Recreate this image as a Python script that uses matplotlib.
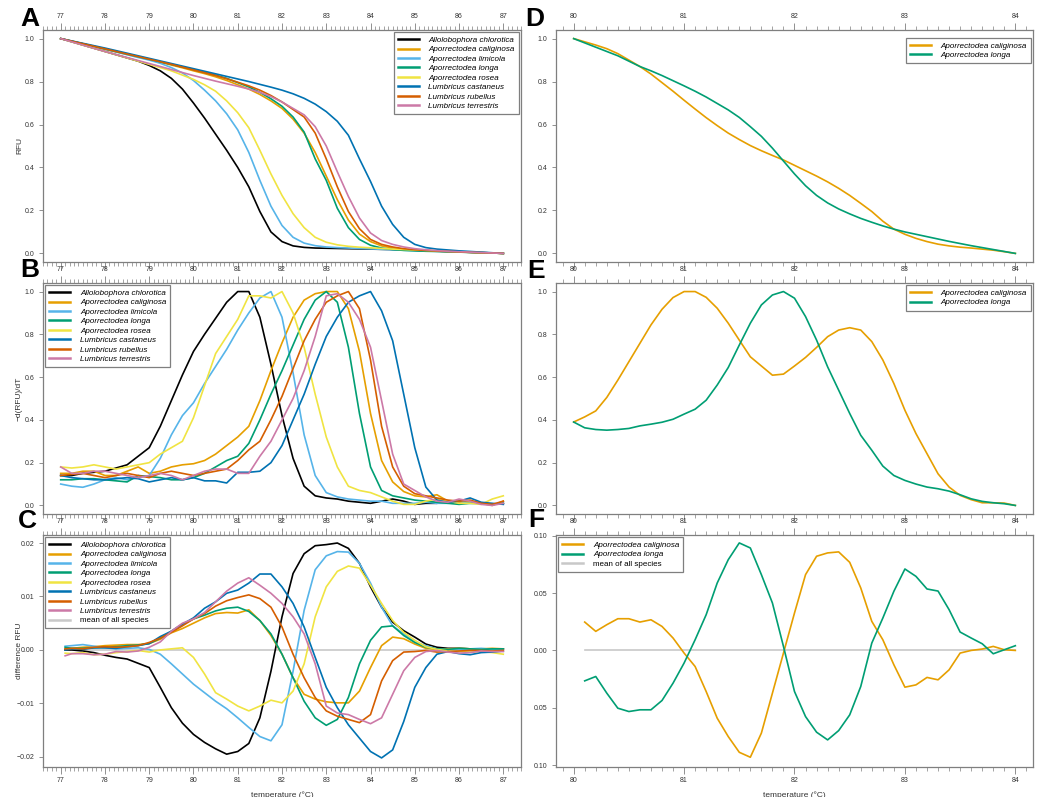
import numpy as np
import matplotlib
matplotlib.use('Agg')
import matplotlib.pyplot as plt
from matplotlib.ticker import MultipleLocator

plt.rcParams['font.family'] = ['Liberation Sans', 'DejaVu Sans']

# Dados: temperaturas
temp_ab = np.arange(77, 87.01, 0.25)
temp_c = np.concatenate([[77.1], np.arange(77.25, 87.01, 0.25)])
temp_de = np.round(np.arange(80, 84.01, 0.1), 1)
temp_f = np.round(np.arange(80.1, 84.01, 0.1), 1)

species = ['Allolobophora chlorotica', 'Aporrectodea caliginosa', 'Aporrectodea limicola',
           'Aporrectodea longa', 'Aporrectodea rosea', 'Lumbricus castaneus',
           'Lumbricus rubellus', 'Lumbricus terrestris']
colors = ['#000000', '#E69F00', '#56B4E9', '#009E73', '#F0E442', '#0072B2', '#D55E00', '#CC79A7']

# A: curvas de fusao (RFU)
a_chlorotica = [1.0, 0.985, 0.97, 0.955, 0.94, 0.925, 0.91, 0.895, 0.875, 0.85, 0.815, 0.765, 0.70, 0.63, 0.555, 0.48, 0.40, 0.31, 0.195, 0.10, 0.055, 0.035, 0.028, 0.025, 0.024, 0.023, 0.022, 0.021, 0.02, 0.019, 0.018, 0.016, 0.015, 0.013, 0.011, 0.009, 0.007, 0.005, 0.004, 0.002, 0.0]
a_caliginosa = [1.0, 0.988, 0.976, 0.963, 0.95, 0.938, 0.926, 0.914, 0.902, 0.89, 0.877, 0.864, 0.85, 0.837, 0.822, 0.805, 0.785, 0.765, 0.74, 0.71, 0.675, 0.625, 0.56, 0.47, 0.36, 0.25, 0.155, 0.09, 0.055, 0.035, 0.025, 0.019, 0.015, 0.012, 0.01, 0.008, 0.006, 0.005, 0.003, 0.002, 0.0]
a_limicola = [1.0, 0.987, 0.975, 0.962, 0.95, 0.938, 0.925, 0.912, 0.90, 0.885, 0.865, 0.84, 0.805, 0.76, 0.71, 0.65, 0.575, 0.47, 0.34, 0.22, 0.13, 0.075, 0.048, 0.036, 0.03, 0.027, 0.025, 0.023, 0.021, 0.019, 0.017, 0.015, 0.013, 0.011, 0.01, 0.008, 0.006, 0.005, 0.003, 0.002, 0.0]
a_longa = [1.0, 0.988, 0.976, 0.964, 0.952, 0.94, 0.928, 0.916, 0.904, 0.892, 0.88, 0.868, 0.856, 0.843, 0.83, 0.815, 0.795, 0.775, 0.75, 0.72, 0.685, 0.635, 0.565, 0.44, 0.34, 0.21, 0.12, 0.065, 0.038, 0.025, 0.018, 0.014, 0.012, 0.01, 0.009, 0.008, 0.006, 0.005, 0.003, 0.002, 0.0]
a_rosea = [1.0, 0.985, 0.97, 0.955, 0.94, 0.925, 0.91, 0.895, 0.88, 0.865, 0.85, 0.83, 0.81, 0.785, 0.755, 0.71, 0.655, 0.585, 0.48, 0.37, 0.27, 0.185, 0.12, 0.075, 0.052, 0.04, 0.033, 0.029, 0.026, 0.023, 0.02, 0.018, 0.016, 0.014, 0.012, 0.01, 0.008, 0.006, 0.004, 0.002, 0.0]
a_castaneus = [1.0, 0.989, 0.978, 0.967, 0.956, 0.944, 0.932, 0.92, 0.908, 0.896, 0.884, 0.872, 0.86, 0.848, 0.836, 0.824, 0.812, 0.80, 0.787, 0.774, 0.76, 0.743, 0.722, 0.695, 0.66, 0.615, 0.55, 0.44, 0.335, 0.22, 0.135, 0.075, 0.042, 0.027, 0.02, 0.016, 0.012, 0.009, 0.006, 0.003, 0.0]
a_rubellus = [1.0, 0.988, 0.976, 0.964, 0.952, 0.94, 0.928, 0.916, 0.904, 0.892, 0.88, 0.867, 0.854, 0.841, 0.828, 0.813, 0.797, 0.78, 0.76, 0.735, 0.705, 0.67, 0.635, 0.56, 0.44, 0.31, 0.195, 0.115, 0.065, 0.042, 0.03, 0.022, 0.017, 0.014, 0.011, 0.009, 0.007, 0.005, 0.003, 0.002, 0.0]
a_terrestris = [1.0, 0.985, 0.97, 0.955, 0.94, 0.926, 0.912, 0.898, 0.884, 0.87, 0.856, 0.842, 0.828, 0.815, 0.802, 0.79, 0.778, 0.765, 0.75, 0.73, 0.705, 0.675, 0.645, 0.59, 0.50, 0.38, 0.265, 0.165, 0.095, 0.06, 0.042, 0.03, 0.022, 0.017, 0.013, 0.01, 0.008, 0.006, 0.004, 0.002, 0.0]

# B: -d(RFU)/dT normalizada
b_chlorotica = [0.14, 0.14, 0.15, 0.155, 0.16, 0.175, 0.19, 0.23, 0.27, 0.37, 0.49, 0.61, 0.72, 0.80, 0.875, 0.95, 1.0, 1.0, 0.88, 0.66, 0.42, 0.22, 0.09, 0.045, 0.035, 0.03, 0.02, 0.015, 0.01, 0.02, 0.03, 0.02, 0.005, 0.01, 0.01, 0.02, 0.01, 0.02, 0.01, 0.005, 0.01]
b_caliginosa = [0.15, 0.15, 0.16, 0.16, 0.14, 0.14, 0.16, 0.18, 0.15, 0.16, 0.18, 0.19, 0.195, 0.21, 0.24, 0.28, 0.32, 0.37, 0.49, 0.63, 0.76, 0.88, 0.96, 0.99, 1.0, 1.0, 0.92, 0.72, 0.43, 0.21, 0.11, 0.065, 0.045, 0.04, 0.05, 0.02, 0.01, 0.02, 0.01, 0.0, 0.02]
b_limicola = [0.10, 0.09, 0.085, 0.10, 0.12, 0.13, 0.12, 0.13, 0.14, 0.22, 0.33, 0.42, 0.48, 0.57, 0.65, 0.73, 0.82, 0.90, 0.97, 1.0, 0.88, 0.62, 0.33, 0.14, 0.06, 0.04, 0.03, 0.025, 0.02, 0.02, 0.01, 0.01, 0.01, 0.015, 0.01, 0.01, 0.02, 0.01, 0.01, 0.005, 0.01]
b_longa = [0.12, 0.12, 0.125, 0.125, 0.12, 0.115, 0.11, 0.14, 0.135, 0.13, 0.12, 0.12, 0.13, 0.15, 0.18, 0.21, 0.23, 0.29, 0.40, 0.52, 0.63, 0.75, 0.87, 0.96, 1.0, 0.95, 0.74, 0.43, 0.18, 0.07, 0.045, 0.035, 0.025, 0.02, 0.015, 0.01, 0.005, 0.01, 0.01, 0.005, 0.01]
b_rosea = [0.18, 0.175, 0.18, 0.19, 0.18, 0.17, 0.18, 0.19, 0.20, 0.24, 0.27, 0.30, 0.41, 0.56, 0.71, 0.79, 0.87, 0.98, 0.98, 0.97, 1.0, 0.90, 0.74, 0.52, 0.32, 0.18, 0.09, 0.07, 0.06, 0.04, 0.02, 0.005, 0.005, 0.02, 0.03, 0.02, 0.01, 0.01, 0.005, 0.03, 0.045]
b_castaneus = [0.14, 0.13, 0.125, 0.12, 0.12, 0.125, 0.13, 0.125, 0.11, 0.12, 0.13, 0.12, 0.13, 0.115, 0.115, 0.105, 0.155, 0.155, 0.16, 0.20, 0.28, 0.40, 0.52, 0.66, 0.79, 0.88, 0.95, 0.98, 1.0, 0.91, 0.77, 0.52, 0.27, 0.086, 0.025, 0.015, 0.02, 0.035, 0.015, 0.01, 0.005]
b_rubellus = [0.14, 0.145, 0.15, 0.14, 0.13, 0.14, 0.15, 0.14, 0.13, 0.15, 0.16, 0.15, 0.14, 0.15, 0.16, 0.17, 0.21, 0.26, 0.30, 0.40, 0.51, 0.64, 0.77, 0.87, 0.95, 0.98, 1.0, 0.92, 0.68, 0.37, 0.18, 0.09, 0.055, 0.045, 0.035, 0.025, 0.02, 0.025, 0.01, 0.005, 0.02]
b_terrestris = [0.18, 0.15, 0.15, 0.16, 0.16, 0.15, 0.14, 0.13, 0.14, 0.15, 0.14, 0.12, 0.14, 0.16, 0.17, 0.17, 0.15, 0.15, 0.23, 0.30, 0.40, 0.50, 0.63, 0.79, 0.98, 0.99, 0.95, 0.87, 0.74, 0.49, 0.24, 0.10, 0.07, 0.04, 0.02, 0.015, 0.03, 0.02, 0.005, 0.0, 0.01]

# C: diferenca para a media
c_chlorotica = [0.0, 0.0, -0.0002, -0.0005, -0.001, -0.0014, -0.0017, -0.0025, -0.0033, -0.007, -0.0108, -0.0137, -0.0158, -0.0173, -0.0185, -0.0195, -0.019, -0.0175, -0.0127, -0.004, 0.0062, 0.0143, 0.018, 0.0195, 0.0197, 0.02, 0.019, 0.0162, 0.0118, 0.008, 0.0052, 0.0036, 0.0024, 0.0011, 0.0005, 0.0003, 0.0003, 0.0002, 0.0001, 0.0002, 0.0002]
c_caliginosa = [0.0002, 0.0003, 0.0005, 0.0006, 0.0008, 0.0009, 0.001, 0.001, 0.0012, 0.002, 0.0032, 0.004, 0.005, 0.006, 0.0068, 0.007, 0.0069, 0.0075, 0.0055, 0.0027, -0.0008, -0.0052, -0.0083, -0.0092, -0.0097, -0.0099, -0.0099, -0.0077, -0.0033, 0.0008, 0.0024, 0.0021, 0.0011, 0.0003, 0.0001, 0.0002, 0.0003, 0.0002, 0.0002, 0.0003, 0.0002]
c_limicola = [0.0007, 0.0008, 0.001, 0.0007, 0.0004, 0.0002, 0.0003, 0.0004, 0.0001, -0.0008, -0.0026, -0.0045, -0.0064, -0.008, -0.0096, -0.011, -0.0127, -0.0145, -0.0162, -0.017, -0.014, -0.004, 0.0074, 0.015, 0.0176, 0.0184, 0.0183, 0.0162, 0.0125, 0.008, 0.0045, 0.003, 0.0015, 0.0008, 0.0002, 0.0, 0.0, 0.0002, 0.0003, 0.0001, 0.0002]
c_longa = [0.0005, 0.0003, 0.0003, 0.0004, 0.0005, 0.0006, 0.0008, 0.0009, 0.0012, 0.0022, 0.0035, 0.0048, 0.0058, 0.0065, 0.0073, 0.0078, 0.008, 0.0072, 0.0055, 0.003, -0.0008, -0.0052, -0.0096, -0.0127, -0.0141, -0.013, -0.0089, -0.0026, 0.0018, 0.0043, 0.0045, 0.0027, 0.0014, 0.0005, 0.0002, 0.0001, 0.0003, 0.0002, 0.0001, 0.0002, 0.0002]
c_rosea = [-0.0006, -0.0007, -0.0005, -0.0009, -0.0008, -0.0005, -0.0003, -0.0001, -0.0004, 0.0, 0.0002, 0.0004, -0.0014, -0.0045, -0.008, -0.0092, -0.0105, -0.0114, -0.0105, -0.0094, -0.0099, -0.0077, -0.0026, 0.0062, 0.0118, 0.0147, 0.0157, 0.0153, 0.0121, 0.0087, 0.0055, 0.0033, 0.0018, 0.0006, 0.0001, -0.0002, -0.0003, -0.0004, -0.0003, -0.0005, -0.0008]
c_castaneus = [0.0, 0.0002, 0.0001, 0.0004, 0.0004, 0.0003, 0.0006, 0.0008, 0.0012, 0.0025, 0.0035, 0.0048, 0.006, 0.0078, 0.009, 0.0106, 0.0112, 0.0125, 0.0142, 0.0142, 0.0118, 0.0087, 0.0043, -0.0014, -0.007, -0.0108, -0.014, -0.0165, -0.019, -0.0202, -0.0187, -0.0134, -0.007, -0.0033, -0.0008, -0.0003, -0.0007, -0.0009, -0.0005, -0.0004, -0.0002]
c_rubellus = [0.0002, 0.0003, 0.0002, 0.0005, 0.0006, 0.0005, 0.0006, 0.0008, 0.0014, 0.0022, 0.0033, 0.0045, 0.0058, 0.0068, 0.0082, 0.0092, 0.0098, 0.0103, 0.0096, 0.008, 0.0043, -0.0008, -0.0052, -0.0089, -0.0114, -0.0124, -0.013, -0.0136, -0.0121, -0.0058, -0.002, -0.0004, -0.0003, -0.0001, -0.0004, -0.0003, -0.0002, -0.0001, -0.0001, -0.0002, -0.0001]
c_terrestris = [-0.0011, -0.0007, -0.0007, -0.0009, -0.0008, -0.0003, -0.0004, -0.0002, 0.0005, 0.0015, 0.0035, 0.005, 0.0058, 0.007, 0.009, 0.011, 0.0125, 0.0135, 0.0121, 0.0106, 0.0087, 0.0062, 0.003, -0.0026, -0.0105, -0.0118, -0.0121, -0.013, -0.0138, -0.0127, -0.0083, -0.0039, -0.0014, -0.0003, -0.0001, -0.0004, -0.0006, -0.0005, -0.0002, -0.0003, -0.0003]

# D, E, F: A. caliginosa vs A. longa
d_caliginosa = [1.0, 0.985, 0.97, 0.953, 0.93, 0.90, 0.87, 0.835, 0.795, 0.755, 0.713, 0.672, 0.632, 0.595, 0.56, 0.53, 0.502, 0.478, 0.456, 0.435, 0.41, 0.385, 0.36, 0.333, 0.303, 0.27, 0.233, 0.195, 0.15, 0.113, 0.089, 0.07, 0.055, 0.043, 0.035, 0.029, 0.025, 0.02, 0.015, 0.008, 0.0]
d_longa = [1.0, 0.98, 0.96, 0.94, 0.92, 0.895, 0.87, 0.85, 0.828, 0.804, 0.78, 0.755, 0.728, 0.698, 0.668, 0.633, 0.59, 0.545, 0.49, 0.43, 0.37, 0.315, 0.27, 0.235, 0.207, 0.184, 0.163, 0.145, 0.128, 0.113, 0.10, 0.089, 0.078, 0.067, 0.056, 0.046, 0.036, 0.027, 0.018, 0.009, 0.0]
e_caliginosa = [0.39, 0.414, 0.442, 0.505, 0.586, 0.672, 0.758, 0.844, 0.917, 0.972, 1.0, 1.0, 0.973, 0.922, 0.852, 0.773, 0.695, 0.652, 0.609, 0.614, 0.652, 0.692, 0.739, 0.789, 0.82, 0.831, 0.82, 0.766, 0.68, 0.57, 0.445, 0.336, 0.242, 0.148, 0.086, 0.047, 0.027, 0.0125, 0.0125, 0.011, 0.0]
e_longa = [0.39, 0.363, 0.355, 0.352, 0.355, 0.36, 0.372, 0.38, 0.389, 0.403, 0.427, 0.45, 0.492, 0.563, 0.645, 0.75, 0.852, 0.9375, 0.984, 1.0, 0.969, 0.883, 0.773, 0.648, 0.539, 0.43, 0.328, 0.258, 0.184, 0.14, 0.117, 0.10, 0.086, 0.078, 0.067, 0.05, 0.031, 0.019, 0.0125, 0.008, 0.0]
f_caliginosa = [0.0247, 0.0166, 0.0224, 0.0276, 0.0276, 0.0247, 0.0267, 0.0209, 0.0108, -0.0023, -0.014, -0.0358, -0.059, -0.075, -0.0887, -0.093, -0.072, -0.0372, -0.0023, 0.0326, 0.066, 0.082, 0.0849, 0.0858, 0.0767, 0.0544, 0.0253, 0.0093, -0.0125, -0.032, -0.03, -0.0235, -0.0256, -0.0169, -0.0023, 0.0, 0.0012, 0.0035, 0.0006, 0.0]
f_longa = [-0.0265, -0.0227, -0.0372, -0.0503, -0.0532, -0.0517, -0.0517, -0.0436, -0.0285, -0.011, 0.0093, 0.0311, 0.0587, 0.079, 0.0936, 0.0892, 0.066, 0.0413, 0.0035, -0.0358, -0.0576, -0.0712, -0.0779, -0.0698, -0.0561, -0.0314, 0.0064, 0.0282, 0.0515, 0.0709, 0.0645, 0.0535, 0.0517, 0.0355, 0.016, 0.0108, 0.0058, -0.0029, 0.0006, 0.0041]

a_all = [a_chlorotica, a_caliginosa, a_limicola, a_longa, a_rosea, a_castaneus, a_rubellus, a_terrestris]
b_all = [b_chlorotica, b_caliginosa, b_limicola, b_longa, b_rosea, b_castaneus, b_rubellus, b_terrestris]
c_all = [c_chlorotica, c_caliginosa, c_limicola, c_longa, c_rosea, c_castaneus, c_rubellus, c_terrestris]

W, H = 1042, 797
fig = plt.figure(figsize=(W / 100, H / 100), dpi=100)

frame_col = '#7f7f7f'
text_col = '#333333'
mean_col = '#c8c8c8'


def make_ax(x0, x1, top, bottom):
    return fig.add_axes([x0 / W, 1 - bottom / H, (x1 - x0) / W, (bottom - top) / H])


def style(ax, xmin, xmax, ylim, yticks, yticklabels, bottom_labels=False):
    ax.set_xlim(xmin, xmax)
    ax.set_ylim(*ylim)
    for s in ax.spines.values():
        s.set_color(frame_col)
        s.set_linewidth(0.9)
    ax.xaxis.set_major_locator(MultipleLocator(1))
    ax.xaxis.set_minor_locator(MultipleLocator(0.1))
    ax.tick_params(axis='x', which='both', top=True, bottom=True, labeltop=True,
                   labelbottom=bottom_labels, direction='out', color=frame_col,
                   labelsize=5, labelcolor=text_col, pad=2)
    ax.tick_params(axis='x', which='major', length=5, width=0.6)
    ax.tick_params(axis='x', which='minor', length=3, width=0.5)
    ax.set_yticks(yticks)
    ax.set_yticklabels(yticklabels)
    ax.tick_params(axis='y', length=3, width=0.6, color=frame_col, labelsize=5,
                   labelcolor=text_col, pad=3)


def legend(ax, loc, **kw):
    leg = ax.legend(loc=loc, fontsize=5.8, frameon=True, fancybox=False, framealpha=1,
                    edgecolor=frame_col, handlelength=2.6, handletextpad=1.2,
                    borderpad=0.5, labelspacing=0.22, borderaxespad=0.3, **kw)
    leg.get_frame().set_linewidth(0.9)
    for t in leg.get_texts():
        if t.get_text() != 'mean of all species':
            t.set_fontstyle('italic')
    for l in leg.get_lines():
        l.set_linewidth(1.8)
    return leg


lx0, lx1 = 43, 521
rx0, rx1 = 556, 1033
rows = [(30, 262), (283, 514), (535, 767)]
xl_left = (76.6, 87.4)
xl_right = (79.84, 84.16)
y01 = [0.0, 0.2, 0.4, 0.6, 0.8, 1.0]
y01_lab = ['0.0', '0.2', '0.4', '0.6', '0.8', '1.0']

# Painel A
axA = make_ax(lx0, lx1, *rows[0])
for name, col, vals in zip(species, colors, a_all):
    axA.plot(temp_ab, vals, color=col, lw=1.2, label=name)
style(axA, *xl_left, (-0.04, 1.04), y01, y01_lab)
axA.set_ylabel('RFU', fontsize=6, color=text_col)
axA.yaxis.set_label_coords(-0.042, 0.5)
legend(axA, 'upper right')

# Painel B
axB = make_ax(lx0, lx1, *rows[1])
for name, col, vals in zip(species, colors, b_all):
    axB.plot(temp_ab, vals, color=col, lw=1.2, label=name)
style(axB, *xl_left, (-0.04, 1.04), y01, y01_lab)
axB.set_ylabel('\u2212d(RFU)/dT', fontsize=6, color=text_col)
axB.yaxis.set_label_coords(-0.042, 0.5)
legend(axB, 'upper left')

# Painel C
axC = make_ax(lx0, lx1, *rows[2])
for name, col, vals in zip(species, colors, c_all):
    axC.plot(temp_c, vals, color=col, lw=1.2, label=name)
axC.plot([temp_c[0], temp_c[-1]], [0, 0], color=mean_col, lw=1.2, label='mean of all species', zorder=1)
style(axC, *xl_left, (-0.0219, 0.0215), [-0.02, -0.01, 0.0, 0.01, 0.02],
      ['\u22120.02', '\u22120.01', '0.00', '0.01', '0.02'], bottom_labels=True)
axC.set_ylabel('difference RFU', fontsize=6, color=text_col)
axC.yaxis.set_label_coords(-0.042, 0.5)
axC.set_xlabel('temperature (\u00b0C)', fontsize=6, color=text_col)
axC.xaxis.set_label_coords(0.5, -0.105)
legend(axC, 'upper left')

# Painel D
axD = make_ax(rx0, rx1, *rows[0])
axD.plot(temp_de, d_caliginosa, color=colors[1], lw=1.2, label=species[1])
axD.plot(temp_de, d_longa, color=colors[3], lw=1.2, label=species[3])
style(axD, *xl_right, (-0.04, 1.04), y01, y01_lab)
legend(axD, 'upper right', bbox_to_anchor=(1.0, 0.975))

# Painel E
axE = make_ax(rx0, rx1, *rows[1])
axE.plot(temp_de, e_caliginosa, color=colors[1], lw=1.2, label=species[1])
axE.plot(temp_de, e_longa, color=colors[3], lw=1.2, label=species[3])
style(axE, *xl_right, (-0.04, 1.04), y01, y01_lab)
legend(axE, 'upper right')

# Painel F
axF = make_ax(rx0, rx1, *rows[2])
axF.plot(temp_f, f_caliginosa, color=colors[1], lw=1.2, label=species[1])
axF.plot(temp_f, f_longa, color=colors[3], lw=1.2, label=species[3])
axF.plot([temp_f[0], temp_f[-1]], [0, 0], color=mean_col, lw=1.2, label='mean of all species', zorder=1)
style(axF, *xl_right, (-0.1015, 0.1005), [-0.1, -0.05, 0.0, 0.05, 0.1],
      ['0.10', '0.05', '0.00', '0.05', '0.10'], bottom_labels=True)
axF.set_xlabel('temperature (\u00b0C)', fontsize=6, color=text_col)
axF.xaxis.set_label_coords(0.5, -0.105)
legend(axF, 'upper left')

# Letras dos paineis
for letter, x, y in [('A', 30, 19), ('B', 30, 270), ('C', 27, 521),
                     ('D', 535, 19), ('E', 536, 271), ('F', 536, 520)]:
    fig.text(x / W, 1 - y / H, letter, fontsize=19, fontweight='bold', ha='center', va='center')

fig.savefig('out.png', dpi=100)
